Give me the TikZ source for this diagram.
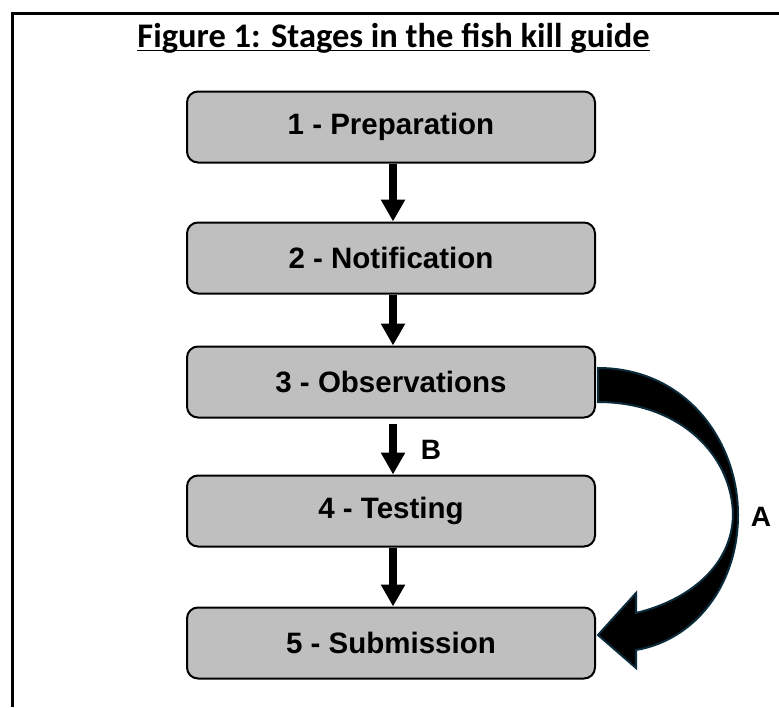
\documentclass[tikz,border=0pt]{standalone}
\usepackage{fontspec}
\setmainfont{Liberation Sans}
\newfontfamily\titlefont{Carlito}
\usetikzlibrary{arrows.meta}
\definecolor{boxgray}{HTML}{BFBFBF}
\definecolor{navyedge}{HTML}{0B2A3A}
\tikzset{
  stage/.style={draw=black, line width=2pt, fill=boxgray, rounded corners=11pt,
    minimum width=408pt, minimum height=71pt, inner sep=0pt,
    font=\fontsize{29.5}{32}\selectfont\bfseries},
  flowarrow/.style={line width=8pt, -{Triangle[width=23pt,length=22pt]}},
  lbl/.style={font=\fontsize{28}{30}\selectfont\bfseries, inner sep=0pt},
}
\begin{document}
\begin{tikzpicture}[x=1pt,y=-1pt]
\useasboundingbox (0,0) rectangle (779,707);
% frame
\draw[line width=3pt] (12,707) -- (12,13) -- (779,13);
% title
\node[inner sep=0pt, anchor=base, font=\titlefont\fontsize{34.5}{38}\selectfont\bfseries] (title) at (393.5,47) {Figure 1: Stages in the fish kill guide};
\draw[line width=1.6pt] ([yshift=-3.5pt]title.base west) -- ([yshift=-3.5pt]title.base east);
% stages
\node[stage] (s1) at (391,127) {1 - Preparation};
\node[stage] (s2) at (391,258) {2 - Notification};
\node[stage] (s3) at (391,382) {3 - Observations};
\node[stage] (s4) at (391,511) {4 - Testing};
\node[stage] (s5) at (391,643) {5 - Submission};
% straight arrows
\draw[flowarrow] ([xshift=2pt]s1.south) -- ([xshift=2pt]s2.north);
\draw[flowarrow] ([xshift=2pt]s2.south) -- ([xshift=2pt]s3.north);
\draw[flowarrow] ([xshift=2pt,yshift=-5pt]s3.south) -- ([xshift=2pt]s4.north);
\draw[flowarrow] ([xshift=2pt]s4.south) -- ([xshift=2pt]s5.north);
\node[lbl] (B) at (431,450) {B};
% curved block arrow A
\draw[line width=2pt, draw=navyedge, fill=black, line join=miter]
  (598,368) .. controls (685,368) and (738,440) .. (738,515)
  .. controls (738,585) and (695,640) .. (636,650)
  -- (636,668) -- (598,635) -- (636,593) -- (636,613)
  .. controls (690,600) and (732,565) .. (733,515)
  .. controls (732,455) and (680,402) .. (598,402) -- cycle;
\node[lbl] (A) at (761,517) {A};
\end{tikzpicture}
\end{document}
